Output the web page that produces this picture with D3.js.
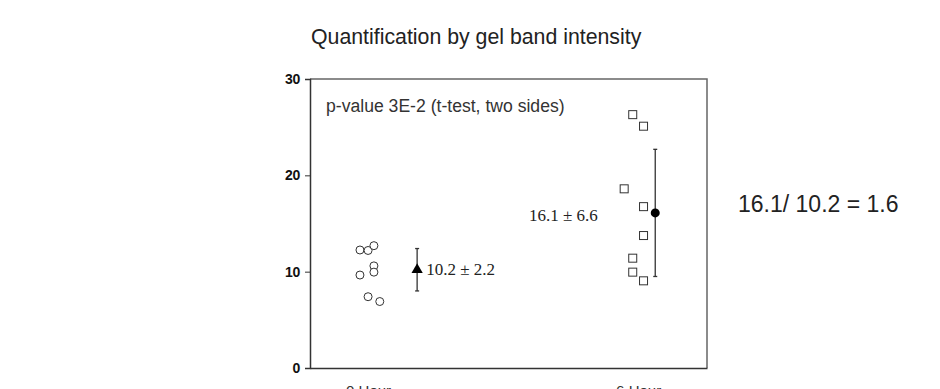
<!DOCTYPE html>
<html>
<head>
<meta charset="utf-8">
<script src="https://cdn.jsdelivr.net/npm/d3@7"></script>
<style>
  body { margin: 0; background: #fff; }
  svg { display: block; }
</style>
</head>
<body>
<svg id="chart" width="940" height="389"></svg>
<script>
// data
const hour0Values = [12.25, 12.2, 12.7, 10.6, 9.95, 9.65, 7.4, 6.9];
const hour0X = [-0.18, 0.0, 0.13, 0.13, 0.13, -0.18, 0.0, 0.26];
const hour6Values = [26.3, 25.1, 18.6, 16.75, 13.75, 11.4, 9.95, 9.05];
const hour6X = [5.88, 6.12, 5.69, 6.12, 6.12, 5.88, 5.88, 6.12];
const means = [10.2, 16.1];
const sds = [2.2, 6.6];
const meanX = [1.09, 6.38];
const categoryLabels = ["0 Hour", "6 Hour"];
const categoryX = [0, 6];
const yTicks = [0, 10, 20, 30];

const svg = d3.select("#chart");

const x = d3.scaleLinear().domain([-1.29, 7.53]).range([310, 707]);
const y = d3.scaleLinear().domain([0, 30]).range([368, 79]);

const sans = "Liberation Sans, Arial, sans-serif";
const serif = "Liberation Serif, Times New Roman, serif";

// title
svg.append("text")
    .attr("x", 311)
    .attr("y", 44)
    .style("font-family", sans)
    .style("font-size", "21.3px")
    .style("fill", "#222")
    .text("Quantification by gel band intensity");

// frame (top + right)
svg.append("path")
    .attr("d", `M${x.range()[0]},${y(30)}H${x.range()[1]}V${y(0)}`)
    .attr("fill", "none")
    .attr("stroke", "#666")
    .attr("stroke-width", 1.5);

// y axis
const yAxis = svg.append("g")
    .attr("transform", `translate(${x.range()[0]},0)`)
    .call(d3.axisLeft(y).tickValues(yTicks).tickSize(5).tickPadding(5));
yAxis.select(".domain").attr("stroke", "#333").attr("stroke-width", 1.5);
yAxis.selectAll(".tick line").attr("stroke", "#333");
yAxis.selectAll(".tick text")
    .style("font-family", sans)
    .style("font-size", "14px")
    .style("font-weight", "bold")
    .style("letter-spacing", "-0.3px")
    .attr("fill", "#111");

// x axis
const xAxis = svg.append("g")
    .attr("transform", `translate(0,${y(0)})`)
    .call(d3.axisBottom(x).tickValues(categoryX).tickSize(0).tickPadding(17)
        .tickFormat((d, i) => categoryLabels[i]));
xAxis.select(".domain").attr("stroke", "#333").attr("stroke-width", 1.5);
xAxis.selectAll(".tick text")
    .style("font-family", sans)
    .style("font-size", "15px")
    .attr("fill", "#333");

// p-value note
svg.append("text")
    .attr("x", 326)
    .attr("y", 112)
    .style("font-family", sans)
    .style("font-size", "17.6px")
    .style("fill", "#333")
    .text("p-value 3E-2 (t-test, two sides)");

// 0 hour circles
svg.selectAll(".pt0")
    .data(hour0Values)
    .join("circle")
    .attr("class", "pt0")
    .attr("cx", (d, i) => x(hour0X[i]))
    .attr("cy", d => y(d))
    .attr("r", 4)
    .attr("fill", "#fff")
    .attr("stroke", "#333")
    .attr("stroke-width", 1);

// 6 hour squares
svg.selectAll(".pt6")
    .data(hour6Values)
    .join("rect")
    .attr("class", "pt6")
    .attr("x", (d, i) => x(hour6X[i]) - 4)
    .attr("y", d => y(d) - 4)
    .attr("width", 8)
    .attr("height", 8)
    .attr("fill", "#fff")
    .attr("stroke", "#333")
    .attr("stroke-width", 1);

// error bars
const bars = svg.selectAll(".err")
    .data(means)
    .join("g")
    .attr("class", "err");
bars.append("line")
    .attr("x1", (d, i) => x(meanX[i]))
    .attr("x2", (d, i) => x(meanX[i]))
    .attr("y1", (d, i) => y(d + sds[i]))
    .attr("y2", (d, i) => y(d - sds[i]))
    .attr("stroke", "#333")
    .attr("stroke-width", 1.3);
[1, -1].forEach(s => {
    bars.append("line")
        .attr("x1", (d, i) => x(meanX[i]) - 2)
        .attr("x2", (d, i) => x(meanX[i]) + 2)
        .attr("y1", (d, i) => y(d + s * sds[i]))
        .attr("y2", (d, i) => y(d + s * sds[i]))
        .attr("stroke", "#333")
        .attr("stroke-width", 1.3);
});

// mean markers
svg.append("path")
    .attr("d", d3.symbol(d3.symbolTriangle, 55)())
    .attr("transform", `translate(${x(meanX[0])},${y(means[0])})`)
    .attr("fill", "#000");
svg.append("circle")
    .attr("cx", x(meanX[1]))
    .attr("cy", y(means[1]))
    .attr("r", 4.5)
    .attr("fill", "#000");

// mean labels
svg.append("text")
    .attr("x", x(meanX[0]) + 9)
    .attr("y", y(means[0]) + 5)
    .style("font-family", serif)
    .style("font-size", "17px")
    .style("fill", "#222")
    .text(`${means[0]} ± ${sds[0]}`);
svg.append("text")
    .attr("x", 529)
    .attr("y", y(means[1]) + 8)
    .style("font-family", serif)
    .style("font-size", "17px")
    .style("fill", "#222")
    .text(`${means[1]} ± ${sds[1]}`);

// ratio
svg.append("text")
    .attr("x", 738)
    .attr("y", 212)
    .style("font-family", sans)
    .style("font-size", "23px")
    .style("fill", "#222")
    .text(`${means[1]}/ ${means[0]} = ${d3.format(".1f")(means[1] / means[0])}`);
</script>
</body>
</html>
